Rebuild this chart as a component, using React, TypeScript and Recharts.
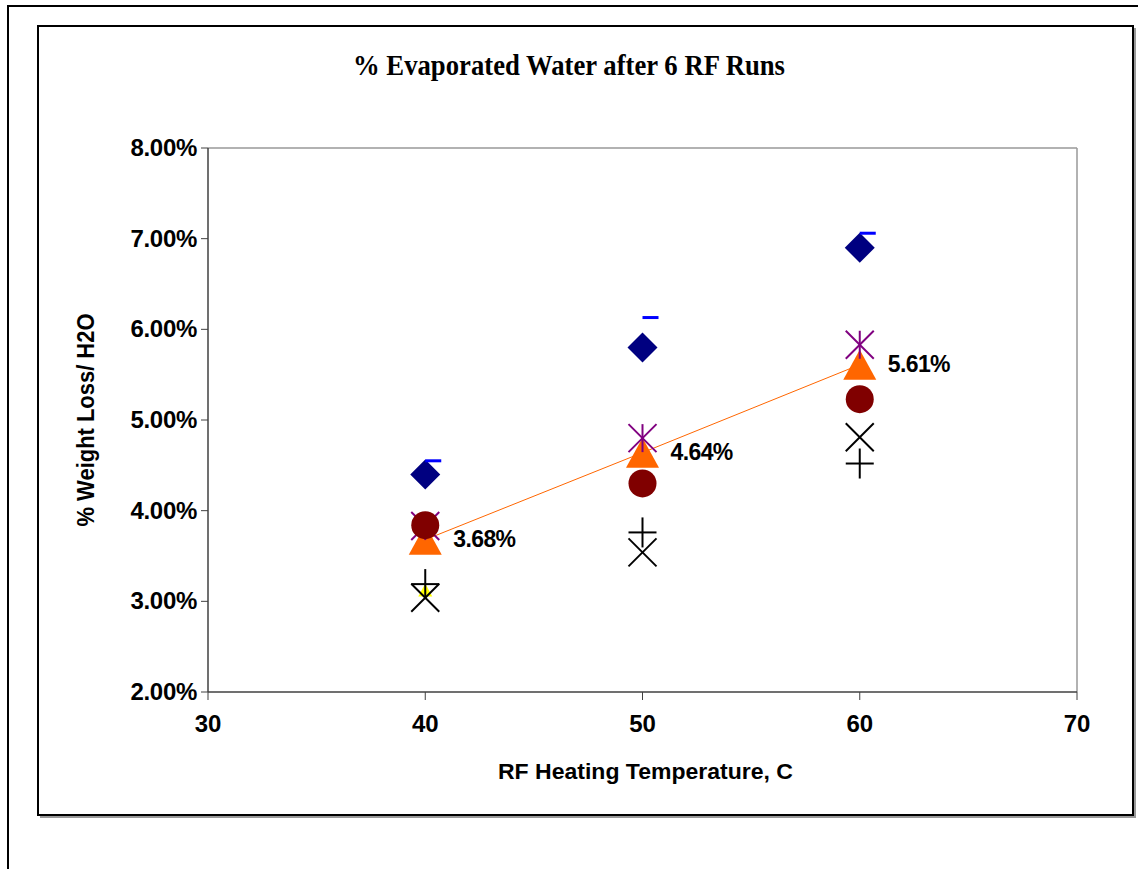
import { ScatterChart, Scatter, XAxis, YAxis, ReferenceLine, LabelList } from 'recharts'

// temperaturas RF (°C) y % de pérdida de peso por corrida
const temps = [40, 50, 60]
const corrida1 = [4.4, 5.8, 6.9]
const corrida1Tope = [4.55, 6.13, 7.06]
const corrida2 = [3.12]
const corrida3 = [3.83, 4.8, 5.83]
const corrida4 = [3.84, 4.3, 5.23]
const corrida5 = [3.04, 3.54, 4.81]
const corrida6 = [3.19, 3.76, 4.52]
const promedio = [3.68, 4.64, 5.61]

const ticksY = [2, 3, 4, 5, 6, 7, 8]
const ticksX = [30, 40, 50, 60, 70]

const titulo = '% Evaporated Water after 6 RF Runs'
const tituloX = 'RF Heating Temperature, C'
const tituloY = '% Weight Loss/ H2O'

const W = 1138
const H = 869
const SANS = '"Liberation Sans", Arial, sans-serif'
const SERIF = '"Liberation Serif", "Times New Roman", serif'

const puntos = (vals: number[]) => vals.map((v, i) => ({ t: temps[i], v }))

const pct = (v: number) => `${v.toFixed(2)}%`

// marcadores estilo Excel
const diamante = ({ cx, cy }: any) => (
  <path d={`M${cx} ${cy - 15}L${cx + 15} ${cy}L${cx} ${cy + 15}L${cx - 15} ${cy}Z`} fill="#000080" />
)
const guion = ({ cx, cy }: any) => <rect x={cx} y={cy - 1.5} width={16} height={3} fill="#0000FF" />
const trianguloAmarillo = ({ cx, cy }: any) => (
  <path d={`M${cx} ${cy - 7}L${cx + 7} ${cy + 6}L${cx - 7} ${cy + 6}Z`} fill="#FFFF00" />
)
const estrella = ({ cx, cy }: any) => (
  <g stroke="#800080" strokeWidth={2}>
    <line x1={cx - 14} y1={cy - 14} x2={cx + 14} y2={cy + 14} />
    <line x1={cx - 14} y1={cy + 14} x2={cx + 14} y2={cy - 14} />
    <line x1={cx} y1={cy - 14} x2={cx} y2={cy + 14} />
  </g>
)
const circulo = ({ cx, cy }: any) => <circle cx={cx} cy={cy} r={14} fill="#800000" />
const cruzX = ({ cx, cy }: any) => (
  <g stroke="#000" strokeWidth={2}>
    <line x1={cx - 14} y1={cy - 14} x2={cx + 14} y2={cy + 14} />
    <line x1={cx - 14} y1={cy + 14} x2={cx + 14} y2={cy - 14} />
  </g>
)
const mas = ({ cx, cy }: any) => (
  <g stroke="#000" strokeWidth={2}>
    <line x1={cx - 14} y1={cy} x2={cx + 14} y2={cy} />
    <line x1={cx} y1={cy - 15} x2={cx} y2={cy + 15} />
  </g>
)
const trianguloNaranja = ({ cx, cy }: any) => (
  <path d={`M${cx} ${cy - 15}L${cx + 16.5} ${cy + 15}L${cx - 16.5} ${cy + 15}Z`} fill="#FF6600" />
)

const etiqueta = (p: any) => {
  const cx = p.x + (p.width || 0) / 2
  const cy = p.y + (p.height || 0) / 2
  return (
    <text
      x={cx + 28}
      y={cy}
      dy={7.5}
      fontFamily={SANS}
      fontWeight="bold"
      fontSize={23}
      letterSpacing={-0.6}
      fill="#000"
    >
      {pct(Number(p.value))}
    </text>
  )
}

const tickY = ({ x, y, payload }: any) => (
  <text x={x} y={y} dy={8} textAnchor="end" fontFamily={SANS} fontWeight="bold" fontSize={24} letterSpacing={-0.3} fill="#000">
    {pct(payload.value)}
  </text>
)

const tickX = ({ x, y, payload }: any) => (
  <text x={x} y={y} dy={32} textAnchor="middle" fontFamily={SANS} fontWeight="bold" fontSize={24} fill="#000">
    {payload.value}
  </text>
)

const labelX = ({ viewBox }: any) => (
  <text
    x={viewBox.x + viewBox.width / 2 + 3}
    y={viewBox.y + 87}
    textAnchor="middle"
    fontFamily={SANS}
    fontWeight="bold"
    fontSize={22}
    textLength={295}
    lengthAdjust="spacingAndGlyphs"
  >
    {tituloX}
  </text>
)

const labelY = ({ viewBox }: any) => {
  const x = viewBox.x - 14
  const y = viewBox.y + viewBox.height / 2
  return (
    <text
      x={x}
      y={y}
      transform={`rotate(-90 ${x} ${y})`}
      textAnchor="middle"
      fontFamily={SANS}
      fontWeight="bold"
      fontSize={23}
      textLength={213}
      lengthAdjust="spacingAndGlyphs"
    >
      {tituloY}
    </text>
  )
}

export default function App() {
  return (
    <div style={{ position: 'absolute', left: 0, top: 0, width: W, height: H, overflow: 'hidden', background: '#fff' }}>
      <svg width={W} height={H} style={{ position: 'absolute', left: 0, top: 0 }}>
        <path d={`M8 ${H + 2}L8 6L${W + 2} 6`} fill="none" stroke="#000" strokeWidth={2} />
        <path d="M40 817L1135 817L1135 28" fill="none" stroke="#999" strokeWidth={2} />
        <rect x={38} y={26} width={1095} height={789} fill="none" stroke="#000" strokeWidth={2} />
        <text
          x={569}
          y={75}
          textAnchor="middle"
          fontFamily={SERIF}
          fontWeight="bold"
          fontSize={29}
          textLength={432}
          lengthAdjust="spacingAndGlyphs"
        >
          {titulo}
        </text>
      </svg>
      <div style={{ position: 'absolute', left: 0, top: 0 }}>
        <ScatterChart width={W} height={H} margin={{ top: 148, right: 61, bottom: 117, left: 108 }}>
          <XAxis
            type="number"
            dataKey="t"
            domain={[30, 70]}
            ticks={ticksX}
            interval={0}
            height={60}
            tickSize={8}
            tickMargin={0}
            tick={tickX}
            axisLine={{ stroke: '#404040', strokeWidth: 1.5 }}
            tickLine={{ stroke: '#404040' }}
            label={labelX}
          />
          <YAxis
            type="number"
            dataKey="v"
            domain={[2, 8]}
            ticks={ticksY}
            interval={0}
            width={100}
            tickSize={7}
            tickMargin={4}
            tick={tickY}
            axisLine={{ stroke: '#404040', strokeWidth: 1.5 }}
            tickLine={{ stroke: '#404040' }}
            label={labelY}
          />
          <ReferenceLine y={8} stroke="#999" strokeWidth={1.5} />
          <ReferenceLine x={70} stroke="#999" strokeWidth={1.5} />
          <Scatter data={puntos(corrida1)} shape={diamante} isAnimationActive={false} />
          <Scatter data={puntos(corrida1Tope)} shape={guion} isAnimationActive={false} />
          <Scatter data={puntos(corrida2)} shape={trianguloAmarillo} isAnimationActive={false} />
          <Scatter
            data={puntos(promedio)}
            shape={trianguloNaranja}
            line={{ stroke: '#FF6600', strokeWidth: 1 }}
            lineType="joint"
            isAnimationActive={false}
          >
            <LabelList dataKey="v" content={etiqueta} />
          </Scatter>
          <Scatter data={puntos(corrida3)} shape={estrella} isAnimationActive={false} />
          <Scatter data={puntos(corrida4)} shape={circulo} isAnimationActive={false} />
          <Scatter data={puntos(corrida5)} shape={cruzX} isAnimationActive={false} />
          <Scatter data={puntos(corrida6)} shape={mas} isAnimationActive={false} />
        </ScatterChart>
      </div>
    </div>
  )
}
